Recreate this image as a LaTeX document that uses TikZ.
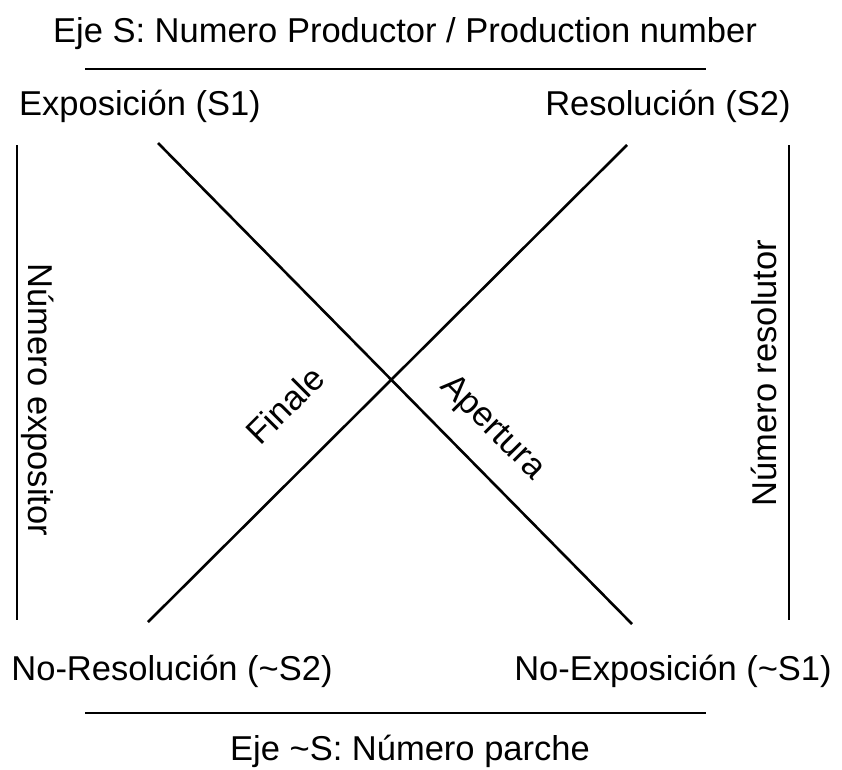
\documentclass[tikz,border=0pt]{standalone}
\usepackage{fontspec}
\setmainfont{Liberation Sans}
\begin{document}
\begin{tikzpicture}[x=1pt,y=-1pt,
  lbl/.style={font=\fontsize{34.5}{40}\selectfont, inner sep=0pt, anchor=base},
  rule/.style={line width=2.6pt}]
\useasboundingbox (0,0) rectangle (842,769);
% titles
\node[lbl] (title) at (405,42) {Eje S: Numero Productor / Production number};
\node[lbl] (bottitle) at (410,760) {Eje \textasciitilde S: Número parche};
% corner labels
\node[lbl] (s1) at (140,115) {Exposición (S1)};
\node[lbl] (s2) at (668,115) {Resolución (S2)};
\node[lbl] (ns2) at (172,680) {No-Resolución (\textasciitilde S2)};
\node[lbl] (ns1) at (673,680) {No-Exposición (\textasciitilde S1)};
% axes
\coordinate (tl) at (85,69);  \coordinate (tr) at (706,69);
\coordinate (bl) at (85,713); \coordinate (br) at (706,713);
\coordinate (lt) at (17,145); \coordinate (lb) at (17,620);
\coordinate (rt) at (789,145); \coordinate (rb) at (789,620);
\draw[rule] (tl) -- (tr);
\draw[rule] (bl) -- (br);
\draw[rule] (lt) -- (lb);
\draw[rule] (rt) -- (rb);
% diagonals
\coordinate (d1a) at (158,143); \coordinate (d1b) at (632,624);
\coordinate (d2a) at (627,145); \coordinate (d2b) at (148,622);
\draw[rule] (d1a) -- (d1b);
\draw[rule] (d2a) -- (d2b);
% side labels
\node[lbl, anchor=center, rotate=-90] (expo) at (38,400) {Número expositor};
\node[lbl, anchor=center, rotate=90] (reso) at (764,373) {Número resolutor};
\node[lbl, anchor=center, rotate=45] (finale) at (285,405) {Finale};
\node[lbl, anchor=center, rotate=-45] (aper) at (492,428) {Apertura};
\end{tikzpicture}
\end{document}
